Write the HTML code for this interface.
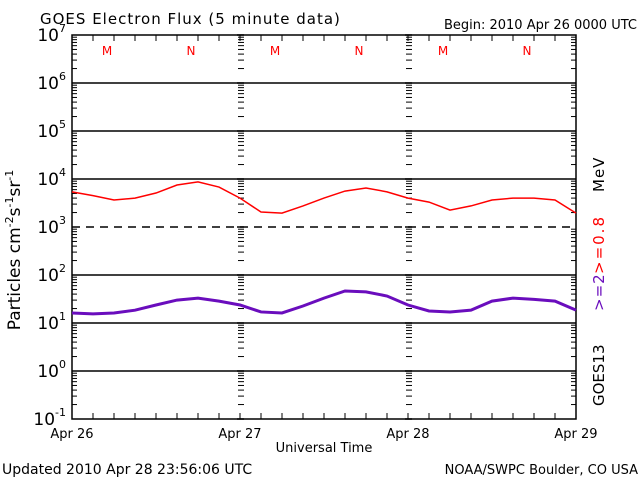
<!DOCTYPE html>
<html><head><meta charset="utf-8"><style>
body{margin:0;background:#fff;width:640px;height:480px;overflow:hidden}
svg text{font-family:"DejaVu Sans","Liberation Sans",sans-serif}
</style></head><body>
<svg id="c" width="640" height="480">
<text x="40" y="24" font-size="15" letter-spacing="1">GOES Electron Flux (5 minute data)</text>
<text x="637" y="29" font-size="13" text-anchor="end">Begin: 2010 Apr 26 0000 UTC</text>
<text x="2" y="474" font-size="14">Updated 2010 Apr 28 23:56:06 UTC</text>
<text x="638" y="474" font-size="13" text-anchor="end">NOAA/SWPC Boulder, CO USA</text>
<text x="324" y="452" font-size="13" text-anchor="middle">Universal Time</text>
<text transform="translate(20,250) rotate(-90)" font-size="17" text-anchor="middle">Particles cm<tspan font-size="11" dy="-7">-2</tspan><tspan dy="7">s</tspan><tspan font-size="11" dy="-7">-1</tspan><tspan dy="7">sr</tspan><tspan font-size="11" dy="-7">-1</tspan></text>
<text transform="translate(604,406) rotate(-90)" font-size="15">GOES13</text>
<text transform="translate(604,311) rotate(-90)" font-size="15" letter-spacing="1" fill="#6a0dbd">&gt;=2</text>
<text transform="translate(604,274) rotate(-90)" font-size="15" letter-spacing="2" fill="#ff0000">&gt;=0.8</text>
<text transform="translate(604,192) rotate(-90)" font-size="15" letter-spacing="1">MeV</text>
<g id="g"></g>
</svg>
<script>
const days=["Apr 26","Apr 27","Apr 28","Apr 29"];
const decadeExps=[-1,0,1,2,3,4,5,6,7];
const mnLabels=["M","N","M","N","M","N"];
const mnHours=[5,17,29,41,53,65];
const hours3=[0,3,6,9,12,15,18,21,24,27,30,33,36,39,42,45,48,51,54,57,60,63,66,69,72];
const red=[5400,4500,3650,4000,5100,7500,8700,6800,4000,2050,1950,2750,4000,5600,6500,5400,4000,3300,2250,2750,3650,4000,4000,3650,1950];
const purple=[16.2,15.5,16.2,18.5,23.7,30,33,28.6,23.7,17,16.2,22.6,33,46.5,44.5,36.5,23.7,17.8,17,18.5,28.6,33,31,28.6,18.5];
const L=72,R=576,T=35,B=419;
const X=h=>L+(R-L)*h/72;
const Y=v=>T+(7-Math.log10(v))*(B-T)/8;
const g=document.getElementById('g');
const NS='http://www.w3.org/2000/svg';
function mk(t,a){const e=document.createElementNS(NS,t);for(const k in a)e.setAttribute(k,a[k]);g.appendChild(e);return e;}
let e;
decadeExps.forEach(p=>{
 if(p>-1&&p<7){e=mk('line',{x1:L,x2:R,y1:Y(Math.pow(10,p)),y2:Y(Math.pow(10,p)),stroke:'#000','stroke-width':1.5,'stroke-dasharray':p==3?'8,6':'none'});
 
 }
 e=mk('text',{x:L-6,y:Y(Math.pow(10,p))+6,'font-size':17,'text-anchor':'end'});
 e.innerHTML='10<tspan font-size="11" dy="-9">'+p+'</tspan>';
 
 
});
const tickXs=[[L,1,5],[R,-1,5],[X(24)+1,1,5],[X(48)+1,1,5]];
for(let p=-1;p<7;p++)for(let m=2;m<=9;m++){const y=Y(m*Math.pow(10,p));
 tickXs.forEach(([x,d,w])=>{e=mk('line',{x1:x-(x==L||x==R?0:3),x2:x+d*(x==L||x==R?w:3),y1:y,y2:y,stroke:'#000','stroke-width':1});
 
 });}
[24,48].forEach(h=>decadeExps.forEach(p=>{e=mk('line',{x1:X(h)-3,x2:X(h)+4,y1:Y(Math.pow(10,p)),y2:Y(Math.pow(10,p)),stroke:'#000','stroke-width':1.5});
 
 }));
e=mk('rect',{x:L,y:T,width:R-L,height:B-T,fill:'none',stroke:'#000','stroke-width':1.5});


hours3.forEach(h=>{[[B,-6],[T,6]].forEach(([y,d])=>{e=mk('line',{x1:X(h),x2:X(h),y1:y,y2:y+d,stroke:'#000','stroke-width':1});
 
 });});
days.forEach((d,i)=>{e=mk('text',{x:X(i*24),y:438,'font-size':13,'text-anchor':'middle'});e.textContent=d;
 
 });
mnLabels.forEach((s,i)=>{e=mk('text',{x:X(mnHours[i]),y:55,'font-size':12,fill:'#ff0000','text-anchor':'middle'});e.textContent=s;
 
 });
function series(arr,col,w,name){e=mk('polyline',{points:arr.map((v,i)=>X(hours3[i])+','+Y(v)).join(' '),fill:'none',stroke:col,'stroke-width':w});
 
 }
series(red,'#ff0000',1.5,'series-08mev');
series(purple,'#6a0dbd',3,'series-2mev');
</script>
</body></html>
